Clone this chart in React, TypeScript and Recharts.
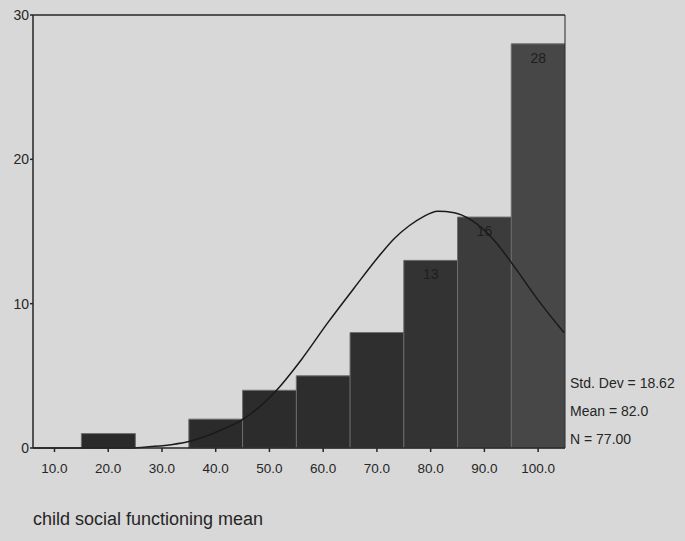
import {
  Bar,
  Cell,
  ComposedChart,
  LabelList,
  Line,
  ReferenceLine,
  XAxis,
  YAxis,
} from "recharts";

// histogram bins (bin centre, count)
const binCenters = [20, 40, 50, 60, 70, 80, 90, 100];
const binCounts = [1, 2, 4, 5, 8, 13, 16, 28];

// normal curve
const curveX = [6, 12, 18, 24, 28, 32, 35, 38, 41, 44.7, 48, 51.2, 55.9, 60.8, 65.8, 70.4, 73.2, 76, 78.5, 81.3, 84.4, 87.5, 91.8, 95.5, 99.9, 104.8];
const curveY = [0, 0, 0, 0, 0.1, 0.25, 0.45, 0.8, 1.25, 1.9, 2.8, 3.95, 6.1, 8.65, 11.1, 13.3, 14.5, 15.4, 16.0, 16.4, 16.3, 15.8, 14.4, 12.6, 10.3, 8.0];

const xTicks = [10, 20, 30, 40, 50, 60, 70, 80, 90, 100];
const yTicks = [0, 10, 20, 30];

const stats = ["Std. Dev = 18.62", "Mean = 82.0", "N = 77.00"];
const xTitle = "child social functioning mean";

const BG = "#d8d8d8";
const INK = "#262626";
const BAR_FILLS = ["#2a2a2a", "#2b2b2b", "#2c2c2c", "#2d2d2d", "#2f2f2f", "#333333", "#3c3c3c", "#474747"];
const FONT = '"Liberation Sans", Arial, sans-serif';

const bins = binCenters.map((x, i) => ({ x, n: binCounts[i] }));
const curve = curveX.map((x, i) => ({ x, y: curveY[i] }));

export default function App() {
  return (
    <div style={{ position: "absolute", left: 0, top: 0, width: 685, height: 541, background: BG }}>
      <ComposedChart
        width={685}
        height={541}
        data={bins}
        barCategoryGap={0}
        margin={{ top: 15, right: 120, bottom: 63, left: 0 }}
      >
        <XAxis
          dataKey="x"
          type="number"
          domain={[6, 105]}
          allowDataOverflow
          ticks={xTicks}
          tickFormatter={(v: number) => v.toFixed(1)}
          height={30}
          tickSize={4}
          tickMargin={11}
          stroke={INK}
          strokeWidth={1.5}
          tick={{ fill: INK, fontSize: 13.5, fontFamily: FONT }}
        />
        <XAxis xAxisId="curve" dataKey="x" type="number" domain={[6, 105]} allowDataOverflow hide />
        <YAxis
          type="number"
          domain={[0, 30]}
          ticks={yTicks}
          width={33}
          tickSize={3}
          tickMargin={1}
          stroke={INK}
          strokeWidth={1.5}
          tick={{ fill: INK, fontSize: 14, fontFamily: FONT }}
        />
        <ReferenceLine y={30} stroke={INK} strokeWidth={1.5} />
        <ReferenceLine x={105} stroke={INK} strokeWidth={1} />
        <Bar dataKey="n" stroke="#6e6e6e" strokeWidth={1} isAnimationActive={false}>
          {bins.map((b, i) => (
            <Cell key={b.x} fill={BAR_FILLS[i]} />
          ))}
          {/* counts only show up on the taller bars in the scan */}
          <LabelList
            dataKey="n"
            position="insideTop"
            offset={9}
            fill="#1e1e1e"
            fontSize={14}
            fontFamily={FONT}
            formatter={(v: number) => (v >= 10 ? v : "")}
          />
        </Bar>
        <Line
          xAxisId="curve"
          data={curve}
          dataKey="y"
          type="monotone"
          stroke="#1a1a1a"
          strokeWidth={1.5}
          dot={false}
          isAnimationActive={false}
        />
      </ComposedChart>
      <svg width={685} height={541} style={{ position: "absolute", left: 0, top: 0, pointerEvents: "none" }}>
        {stats.map((s, i) => (
          <text key={s} x={570} y={388 + i * 28} fontSize={14} fontFamily={FONT} fill={INK}>
            {s}
          </text>
        ))}
        <text x={33} y={525} fontSize={18} fontFamily={FONT} fill={INK}>
          {xTitle}
        </text>
      </svg>
    </div>
  );
}
